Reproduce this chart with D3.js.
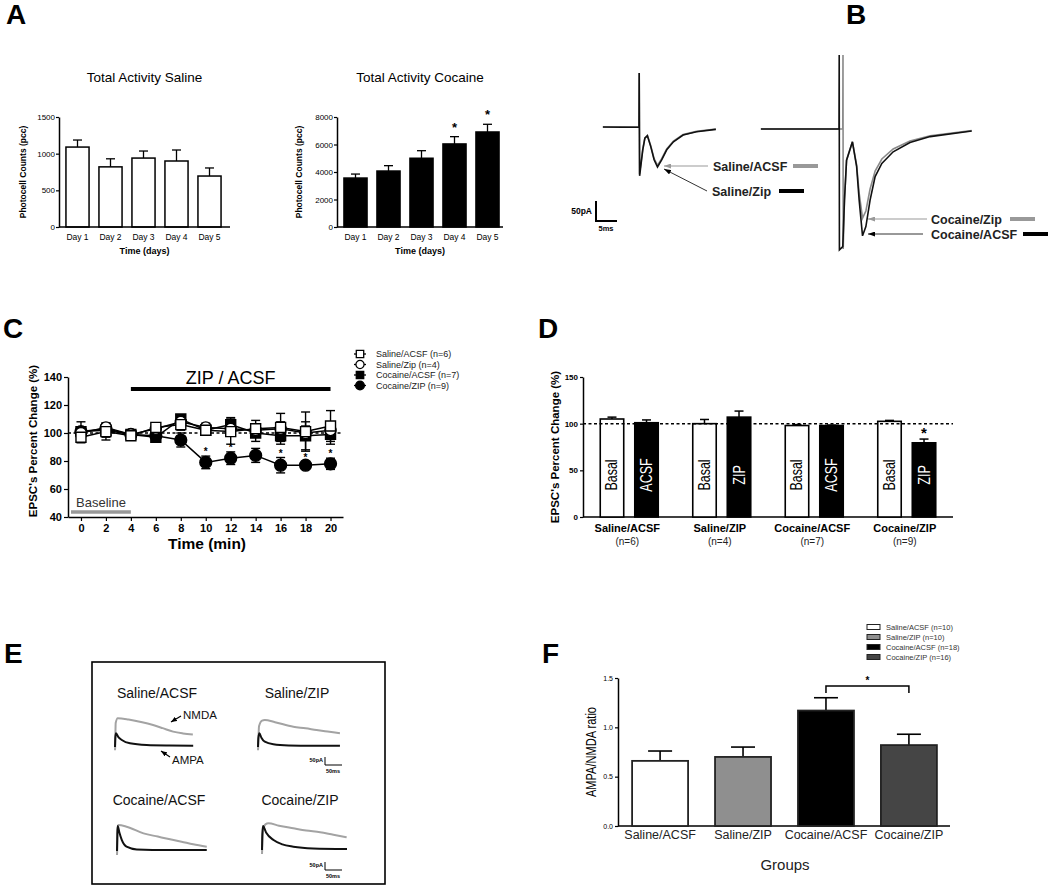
<!DOCTYPE html>
<html><head><meta charset="utf-8">
<script src="https://cdn.jsdelivr.net/npm/d3@7"></script>
<style>body{margin:0;background:#fff} svg{display:block}</style>
</head><body><svg id="c" width="1050" height="886"></svg>
<script>
// ---------------- DATA ----------------
// A
const days = ["Day 1","Day 2","Day 3","Day 4","Day 5"];
const salineActivity = [1090, 820, 940, 900, 695];
const salineActivitySem = [96, 110, 96, 150, 110];
const cocaineActivity = [3560, 4070, 5000, 6040, 6910];
const cocaineActivitySem = [290, 390, 550, 530, 560];
const cocaineActivitySig = [false, false, false, true, true];
const salineTicks = [0, 500, 1000, 1500];
const cocaineTicks = [0, 2000, 4000, 6000, 8000];

// B  traces: [ms, pA]
const salineAcsfTrace = [[-8.6,0],[-4,0.5],[0,0],[0.05,135],[0.12,-118],[0.9,-55],[1.4,-27],[2.0,-21],[2.8,-47],[3.6,-79],[4.4,-96],[5.4,-79],[6.6,-55],[8.2,-35],[10.5,-19],[13.7,-11],[18.3,-5]];
const salineZipTrace  = [[-8.6,0],[-4,-0.5],[0,0],[0.05,135],[0.15,-122],[0.9,-57],[1.4,-28],[2.0,-22],[2.8,-49],[3.6,-82],[4.4,-100],[5.4,-82],[6.6,-57],[8.2,-37],[10.5,-20],[13.7,-12],[18.3,-6]];
const cocaineZipTrace  = [[-18.6,0],[0.9,0],[0.95,185],[1.0,-300],[1.3,-178],[1.8,-78],[3.2,-32],[4.2,-90],[4.8,-160],[5.6,-223],[6.4,-205],[7.4,-150],[8.6,-105],[10.2,-75],[12.9,-50],[16.9,-30],[21.7,-17],[31.6,-4]];
const cocaineAcsfTrace = [[-18.6,0],[0,0],[0.05,185],[0.1,-302],[0.9,-294],[1.3,-178],[1.8,-78],[3.2,-32],[4.2,-94],[4.8,-178],[5.6,-267],[6.4,-244],[7.4,-178],[8.6,-119],[10.2,-86],[12.9,-57],[16.9,-34],[21.7,-19],[31.6,-5]];
const bScaleBar = [5, 50]; // ms, pA

// C
const cTimes = [0,2,4,6,8,10,12,14,16,18,20];
const cSalineAcsf    = [97,101,98,104,106,102,101,103,104,101,105];
const cSalineAcsfErr = [4,6,3,3,4,3,9,6,10,14,11];
const cSalineZip     = [100,104,99,103,108,104,103,102,103,100,102];
const cSalineZipErr  = [3,3,2,2,3,3,4,4,5,5,5];
const cCocaineAcsf    = [101,102,99,97,110,102,106,100,98,98,99];
const cCocaineAcsfErr = [7,5,2,2,3,3,5,6,6,10,7];
const cCocaineZip     = [101,103,99,98,95,79,82,84,77,77,78];
const cCocaineZipErr  = [3,3,2,2,5,4.5,4.5,5,5.5,2,4];
const cNames = ["Saline/ACSF (n=6)","Saline/Zip (n=4)","Cocaine/ACSF (n=7)","Cocaine/ZIP (n=9)"];
const cSigTimes = [10,12,16,18,20];
const cTicksY = [40,60,80,100,120,140];
const cBaselinePeriod = [-0.8, 4];
const cDrugPeriod = [4, 20];

// D
const dGroups = ["Saline/ACSF","Saline/ZIP","Cocaine/ACSF","Cocaine/ZIP"];
const dN = ["(n=6)","(n=4)","(n=7)","(n=9)"];
const dBasal = [105, 100, 98, 102.5];
const dBasalErr = [2, 4.5, 1, 1];
const dTreat = [101, 107, 98, 79.5];
const dTreatErr = [3, 6.5, 0.5, 4];
const dTreatLabel = ["ACSF","ZIP","ACSF","ZIP"];
const dSig = [false, false, false, true];
const dTicks = [0, 50, 100, 150];

// E traces: [ms, pA]
const eTitles = ["Saline/ACSF","Saline/ZIP","Cocaine/ACSF","Cocaine/ZIP"];
const eNmda = [
  [[0,-20],[0.5,0],[2,150],[8,180],[40,172],[80,155],[112,137],[140,118],[171,96],[200,85],[229,78]],
  [[0,-20],[0.5,0],[3,130],[12,165],[20,169],[50,155],[104,127],[140,117],[172,106],[210,95],[241,86]],
  [[0,-25],[0.5,0],[2,140],[4,162],[28,152],[78,110],[120,90],[156,73],[190,58],[224,42],[264,27]],
  [[0,-25],[0.5,0],[3,120],[10,160],[19,167],[50,152],[92,136],[130,122],[171,111],[210,95],[249,80]]
];
const eAmpa = [
  [[0,0],[1,60],[3,86],[10,62],[20,44],[44,23],[93,12],[160,9],[230,8]],
  [[0,0],[1,55],[4,86],[10,58],[20,33],[45,17],[90,10],[160,8],[241,8]],
  [[0,0],[1,110],[2,156],[7,115],[14,69],[28,27],[58,10],[150,6],[264,6]],
  [[0,0],[1,100],[3,150],[12,110],[34,62],[60,35],[92,21],[150,10],[250,6]]
];
const eScaleBar = [50, 50]; // ms, pA

// F
const fGroups = ["Saline/ACSF","Saline/ZIP","Cocaine/ACSF","Cocaine/ZIP"];
const fMeans = [0.66, 0.70, 1.17, 0.82];
const fErr = [0.10, 0.10, 0.13, 0.11];
const fLegend = ["Saline/ACSF (n=10)","Saline/ZIP (n=10)","Cocaine/ACSF (n=18)","Cocaine/ZIP (n=16)"];
const fTicks = [0, 0.5, 1.0, 1.5];
const fSigPair = ["Cocaine/ACSF","Cocaine/ZIP"];

// ---------------- DRAWING ----------------
const FONT = '"Liberation Sans", Arial, Helvetica, sans-serif';
const svg = d3.select("#c").attr("font-family", FONT);
svg.append("rect").attr("width",1050).attr("height",886).attr("fill","#fff");

const defs = svg.append("defs");
function mk(id, color, w, h){
  defs.append("marker").attr("id",id).attr("markerUnits","userSpaceOnUse")
    .attr("markerWidth",w).attr("markerHeight",h).attr("refX",w).attr("refY",h/2)
    .attr("orient","auto").append("path").attr("d",`M0,0L${w},${h/2}L0,${h}z`).attr("fill",color);
}
mk("arrG","#999",7,5); mk("arrK","#000",7,5); mk("arrE","#000",6,5);

function styleAxis(g, fs, weight){
  g.attr("font-family", FONT);
  g.select(".domain").attr("stroke","#000").attr("stroke-width",1.5);
  g.selectAll(".tick line").attr("stroke","#000").attr("stroke-width",1.2);
  g.selectAll(".tick text").attr("font-size",fs).attr("font-weight",weight||"normal").attr("fill","#000");
}
function text(g, x, y, s, o){
  o = o || {};
  const t = g.append("text").attr("x",x).attr("y",y).text(s)
    .attr("font-size",o.size||10).attr("font-weight",o.weight||"normal")
    .attr("text-anchor",o.anchor||"start").attr("fill",o.fill||"#000");
  if (o.rotate) t.attr("transform",`rotate(-90,${x},${y})`);
  return t;
}
function errUp(g, x, y0, y1, cap, w){
  g.append("line").attr("x1",x).attr("x2",x).attr("y1",y0).attr("y2",y1).attr("stroke","#000").attr("stroke-width",w||1.5);
  g.append("line").attr("x1",x-cap/2).attr("x2",x+cap/2).attr("y1",y1).attr("y2",y1).attr("stroke","#000").attr("stroke-width",w||1.5);
}

// panel letters
[["A",6,24],["B",846,24],["C",3,338],["D",538,338],["E",4,663],["F",542,663]].forEach(([s,x,y])=>
  text(svg,x,y,s,{size:28,weight:"bold"}));

// ---- Panel A ----
function activityChart(o){
  const g = svg.append("g");
  const x = d3.scaleBand().domain(days).range(o.xr).paddingInner(0.3).paddingOuter(0.15);
  const y = d3.scaleLinear().domain([0,o.ymax]).range([227,117]);
  days.forEach((d,i)=>{
    const cx = x(d)+x.bandwidth()/2;
    errUp(g, cx, y(o.vals[i]), y(o.vals[i]+o.sem[i]), 9, 1.3);
    g.append("rect").attr("x",x(d)).attr("y",y(o.vals[i])).attr("width",x.bandwidth())
      .attr("height",y(0)-y(o.vals[i])).attr("fill",o.fill).attr("stroke","#000").attr("stroke-width",1.5);
    if (o.sig && o.sig[i]) text(g, cx, y(o.vals[i]+o.sem[i])-5, "*", {size:13, weight:"bold", anchor:"middle"});
    text(g, cx, 240, d, {size:8.5, anchor:"middle"});
  });
  const ax = g.append("g").attr("transform",`translate(${o.ax},0)`)
    .call(d3.axisLeft(y).tickValues(o.ticks).tickSize(3).tickSizeOuter(0).tickPadding(1).tickFormat(d3.format("d")));
  styleAxis(ax, 8);
  g.append("line").attr("x1",o.ax).attr("x2",o.axEnd).attr("y1",y(0)).attr("y2",y(0)).attr("stroke","#000").attr("stroke-width",1.5);
  const mid = (o.ax+o.axEnd)/2;
  text(g, mid, 82, o.title, {size:13.5, anchor:"middle"});
  text(g, mid, 254, "Time (days)", {size:9, weight:"bold", anchor:"middle"});
  text(g, o.ylx, 172, "Photocell Counts (pcc)", {size:8.5, weight:"bold", anchor:"middle", rotate:true});
}
activityChart({xr:[61,226], ax:59, axEnd:230, ymax:1500, ticks:salineTicks, vals:salineActivity, sem:salineActivitySem,
  fill:"#fff", title:"Total Activity Saline", ylx:26});
activityChart({xr:[339,504], ax:337, axEnd:503, ymax:8000, ticks:cocaineTicks, vals:cocaineActivity, sem:cocaineActivitySem,
  fill:"#000", sig:cocaineActivitySig, title:"Total Activity Cocaine", ylx:302});

// ---- Panel B ----
{
  const g = svg.append("g");
  const xB = d3.scaleLinear().domain([0,5]).range([0,21]);
  const yB = d3.scaleLinear().domain([0,50]).range([0,-20]);
  const line = d3.line().x(d=>xB(d[0])).y(d=>yB(d[1]));
  const gl = g.append("g").attr("transform","translate(639,127)");
  gl.append("path").attr("d",line(salineAcsfTrace)).attr("fill","none").attr("stroke","#8a8a8a").attr("stroke-width",1.6);
  gl.append("path").attr("d",line(salineZipTrace)).attr("fill","none").attr("stroke","#111").attr("stroke-width",1.6);
  const gr = g.append("g").attr("transform","translate(839,129)");
  gr.append("path").attr("d",line(cocaineZipTrace)).attr("fill","none").attr("stroke","#8a8a8a").attr("stroke-width",1.6);
  gr.append("path").attr("d",line(cocaineAcsfTrace)).attr("fill","none").attr("stroke","#111").attr("stroke-width",1.6);
  const sx = 596, sy = 221;
  g.append("path").attr("d",`M${sx},${sy+yB(bScaleBar[1])}V${sy}H${sx+xB(bScaleBar[0])}`).attr("fill","none").attr("stroke","#000").attr("stroke-width",2);
  text(g, 592, 214, "50pA", {size:8.5, weight:"bold", anchor:"end"});
  text(g, 606, 231, "5ms", {size:7.5, weight:"bold", anchor:"middle"});
  const lab = [
    ["Saline/ACSF", 713, 166, "#999", 793, 818, 708, 664, 166, "arrG"],
    ["Saline/Zip", 712, 191, "#000", 779, 804, 707, 664, 169, "arrK"],
    ["Cocaine/Zip", 931, 219, "#999", 1010, 1035, 927, 868, 219, "arrG"],
    ["Cocaine/ACSF", 931, 234, "#000", 1023, 1048, 923, 868, 234, "arrK"]
  ];
  lab.forEach(([s,x,y,c,l0,l1,ax0,ax1,ay1,m])=>{
    text(g, x, y+4.5, s, {size:12.5, weight:"bold", fill:"#222"});
    g.append("line").attr("x1",l0).attr("x2",l1).attr("y1",y).attr("y2",y).attr("stroke",c).attr("stroke-width",4);
    g.append("line").attr("x1",ax0).attr("x2",ax1).attr("y1",y).attr("y2",ay1)
      .attr("stroke",c==="#000"?"#333":"#999").attr("stroke-width",1).attr("marker-end",`url(#${m})`);
  });
}

// ---- Panel C ----
{
  const g = svg.append("g");
  const x = d3.scaleLinear().domain([-1.04,21]).range([68,343]);
  const y = d3.scaleLinear().domain([40,140]).range([517,377]);
  const ax = g.append("g").attr("transform","translate(68,0)")
    .call(d3.axisLeft(y).tickValues(cTicksY).tickSize(4).tickSizeOuter(0).tickPadding(2));
  styleAxis(ax, 11, "bold");
  const bx = g.append("g").attr("transform","translate(0,517)")
    .call(d3.axisBottom(x).tickValues(cTimes).tickSize(4).tickSizeOuter(0).tickPadding(3));
  styleAxis(bx, 11, "bold");
  text(g, 207, 549, "Time (min)", {size:15.5, weight:"bold", anchor:"middle"});
  text(g, 37, 441, "EPSC's Percent Change (%)", {size:11.5, weight:"bold", anchor:"middle", rotate:true});
  g.append("line").attr("x1",x(cDrugPeriod[0])).attr("x2",x(cDrugPeriod[1])).attr("y1",389).attr("y2",389).attr("stroke","#000").attr("stroke-width",4);
  text(g, (x(cDrugPeriod[0])+x(cDrugPeriod[1]))/2, 384, "ZIP / ACSF", {size:18, anchor:"middle"});
  g.append("line").attr("x1",x(cBaselinePeriod[0])).attr("x2",x(cBaselinePeriod[1])).attr("y1",512).attr("y2",512).attr("stroke","#999").attr("stroke-width",3.5);
  text(g, 76, 507, "Baseline", {size:13, fill:"#333"});
  g.append("line").attr("x1",68).attr("x2",343).attr("y1",y(100)).attr("y2",y(100)).attr("stroke","#000").attr("stroke-width",1.5).attr("stroke-dasharray","3,2.5");
  const series = [
    {vals:cCocaineZip, err:cCocaineZipErr, name:cNames[3]},
    {vals:cCocaineAcsf, err:cCocaineAcsfErr, name:cNames[2]},
    {vals:cSalineZip, err:cSalineZipErr, name:cNames[1]},
    {vals:cSalineAcsf, err:cSalineAcsfErr, name:cNames[0]}
  ];
  const styles = {};
  styles[cNames[0]] = {type:d3.symbolSquare, size:100, fill:"#fff"};
  styles[cNames[1]] = {type:d3.symbolCircle, size:95, fill:"#fff"};
  styles[cNames[2]] = {type:d3.symbolSquare, size:100, fill:"#000"};
  styles[cNames[3]] = {type:d3.symbolCircle, size:110, fill:"#000"};
  const line = d3.line().x((d,i)=>x(cTimes[i])).y(d=>y(d));
  series.forEach(s=>{
    g.append("path").attr("d",line(s.vals)).attr("fill","none").attr("stroke","#000").attr("stroke-width",1.5);
  });
  series.forEach(s=>{
    s.vals.forEach((v,i)=>{
      const cx = x(cTimes[i]);
      g.append("line").attr("x1",cx).attr("x2",cx).attr("y1",y(v-s.err[i])).attr("y2",y(v+s.err[i])).attr("stroke","#000").attr("stroke-width",1.4);
      [v-s.err[i], v+s.err[i]].forEach(e=>g.append("line").attr("x1",cx-4.5).attr("x2",cx+4.5).attr("y1",y(e)).attr("y2",y(e)).attr("stroke","#000").attr("stroke-width",1.4));
    });
  });
  series.forEach(s=>{
    const st = styles[s.name];
    s.vals.forEach((v,i)=>{
      g.append("path").attr("d",d3.symbol().type(st.type).size(st.size)()).attr("transform",`translate(${x(cTimes[i])},${y(v)})`)
        .attr("fill",st.fill).attr("stroke","#000").attr("stroke-width",1.4);
    });
  });
  cSigTimes.forEach(t=>{
    const i = cTimes.indexOf(t);
    text(g, x(t), y(cCocaineZip[i]+cCocaineZipErr[i])-1, "*", {size:10, weight:"bold", anchor:"middle"});
  });
  cNames.forEach((n,i)=>{
    const ly = 354 + i*10.5, lx = 360;
    const st = styles[n];
    g.append("line").attr("x1",lx-6).attr("x2",lx+6).attr("y1",ly).attr("y2",ly).attr("stroke","#000").attr("stroke-width",1.3);
    g.append("path").attr("d",d3.symbol().type(st.type).size(st.size*0.55)()).attr("transform",`translate(${lx},${ly})`)
      .attr("fill",st.fill).attr("stroke","#000").attr("stroke-width",1.3);
    text(g, 376, ly+3, n, {size:9, fill:"#222"});
  });
}

// ---- Panel D ----
{
  const g = svg.append("g");
  const gx = d3.scaleBand().domain(dGroups).range([583,953]);
  const inner = d3.scaleBand().domain(["Basal","Treat"]).range([-29,29]).paddingInner(0.32);
  const y = d3.scaleLinear().domain([0,150]).range([517,377]);
  const ax = g.append("g").attr("transform","translate(583,0)")
    .call(d3.axisLeft(y).tickValues(dTicks).tickSize(3).tickSizeOuter(0).tickPadding(2));
  styleAxis(ax, 8, "bold");
  g.append("line").attr("x1",583).attr("x2",953).attr("y1",517).attr("y2",517).attr("stroke","#000").attr("stroke-width",1.5);
  text(g, 559, 447, "EPSC's Percent Change (%)", {size:11.5, weight:"bold", anchor:"middle", rotate:true});
  const bw = inner.bandwidth();
  dGroups.forEach((grp,i)=>{
    const gc = gx(grp) + gx.bandwidth()/2;
    const bars = [
      {x:gc+inner("Basal"), v:dBasal[i], e:dBasalErr[i], fill:"#fff", lab:"Basal", tc:"#000"},
      {x:gc+inner("Treat"), v:dTreat[i], e:dTreatErr[i], fill:"#000", lab:dTreatLabel[i], tc:"#fff"}
    ];
    bars.forEach(b=>{
      const cx = b.x + bw/2;
      errUp(g, cx, y(b.v), y(b.v+b.e), 9, 1.5);
      g.append("rect").attr("x",b.x).attr("y",y(b.v)).attr("width",bw).attr("height",y(0)-y(b.v))
        .attr("fill",b.fill).attr("stroke","#000").attr("stroke-width",1.6);
      const t = text(g, cx+5.5, 475, b.lab, {size:16, anchor:"middle", fill:b.tc, rotate:true});
      const L = t.node().getComputedTextLength();
      t.attr("textLength", L*0.78).attr("lengthAdjust","spacingAndGlyphs");
    });
    if (dSig[i]) text(g, bars[1].x+bw/2, y(dTreat[i]+dTreatErr[i])-1, "*", {size:15, weight:"bold", anchor:"middle"});
    text(g, gc-2, 532, grp, {size:11, weight:"bold", anchor:"middle"});
    text(g, gc-2, 545, dN[i], {size:10, anchor:"middle", fill:"#222"});
  });
  g.append("line").attr("x1",583).attr("x2",953).attr("y1",y(100)).attr("y2",y(100)).attr("stroke","#000").attr("stroke-width",1.5).attr("stroke-dasharray","3,2.5");
}

// ---- Panel E ----
{
  const g = svg.append("g");
  g.append("rect").attr("x",92).attr("y",662).attr("width",293).attr("height",222).attr("fill","none").attr("stroke","#000").attr("stroke-width",1.6);
  const eX = d3.scaleLinear().domain([0,50]).range([0,17]);
  const eY = d3.scaleLinear().domain([0,50]).range([0,-8]);
  const line = d3.line().x(d=>eX(d[0])).y(d=>eY(d[1])).curve(d3.curveMonotoneX);
  const origins = [[115,747],[258,747],[117,851],[262,850]];
  const titlePos = [[157,698],[297,698],[159,805],[300,805]];
  eTitles.forEach((t,i)=>{
    text(g, titlePos[i][0], titlePos[i][1], t, {size:14, anchor:"middle", fill:"#111"});
    const tg = g.append("g").attr("transform",`translate(${origins[i][0]},${origins[i][1]})`);
    tg.append("path").attr("d",line(eNmda[i])).attr("fill","none").attr("stroke","#a3a3a3").attr("stroke-width",2);
    tg.append("path").attr("d",line(eAmpa[i])).attr("fill","none").attr("stroke","#111").attr("stroke-width",2);
  });
  text(g, 183, 719, "NMDA", {size:11.5, fill:"#111"});
  g.append("line").attr("x1",181).attr("y1",716).attr("x2",171).attr("y2",722).attr("stroke","#000").attr("stroke-width",1.2).attr("marker-end","url(#arrE)");
  text(g, 172, 764, "AMPA", {size:11.5, fill:"#111"});
  g.append("line").attr("x1",170).attr("y1",757).attr("x2",161).attr("y2",751).attr("stroke","#000").attr("stroke-width",1.2).attr("marker-end","url(#arrE)");
  [[325,765],[325,870]].forEach(([sx,sy])=>{
    g.append("path").attr("d",`M${sx},${sy+eY(eScaleBar[1])}V${sy}H${sx+eX(eScaleBar[0])}`).attr("fill","none").attr("stroke","#000").attr("stroke-width",1);
    text(g, sx-2, sy-3, "50pA", {size:5.5, weight:"bold", anchor:"end"});
    text(g, sx+8, sy+8, "50ms", {size:5.5, weight:"bold", anchor:"middle"});
  });
}

// ---- Panel F ----
{
  const g = svg.append("g");
  const x = d3.scaleBand().domain(fGroups).range([618,951]).paddingInner(0.325).paddingOuter(0.17);
  const y = d3.scaleLinear().domain([0,1.5]).range([826,678]);
  const fills = ["#fff","#8f8f8f","#000","#454545"];
  const ax = g.append("g").attr("transform","translate(618,0)")
    .call(d3.axisLeft(y).tickValues(fTicks).tickSize(3).tickSizeOuter(0).tickPadding(2).tickFormat(d3.format(".1f")));
  styleAxis(ax, 7);
  g.append("line").attr("x1",618).attr("x2",950).attr("y1",826).attr("y2",826).attr("stroke","#000").attr("stroke-width",1.5);
  fGroups.forEach((grp,i)=>{
    const cx = x(grp)+x.bandwidth()/2;
    errUp(g, cx, y(fMeans[i]), y(fMeans[i]+fErr[i]), 24, 1.6);
    g.append("rect").attr("x",x(grp)).attr("y",y(fMeans[i])).attr("width",x.bandwidth()).attr("height",y(0)-y(fMeans[i]))
      .attr("fill",fills[i]).attr("stroke","#222").attr("stroke-width",1.8);
    text(g, cx, 839, grp, {size:12.5, anchor:"middle", fill:"#222"});
  });
  const c1 = x(fSigPair[0])+x.bandwidth()/2, c2 = x(fSigPair[1])+x.bandwidth()/2;
  g.append("path").attr("d",`M${c1},693V686H${c2}V693`).attr("fill","none").attr("stroke","#000").attr("stroke-width",1.5);
  text(g, (c1+c2)/2, 684, "*", {size:10, weight:"bold", anchor:"middle"});
  text(g, 785, 870, "Groups", {size:15, anchor:"middle", fill:"#222"});
  const yl = text(g, 596, 752, "AMPA/NMDA ratio", {size:14, anchor:"middle", rotate:true});
  yl.attr("textLength",90).attr("lengthAdjust","spacingAndGlyphs");
  fLegend.forEach((s,i)=>{
    const ly = 627 + i*10;
    g.append("rect").attr("x",867).attr("y",ly-2.5).attr("width",13).attr("height",5).attr("fill",fills[i]).attr("stroke","#222").attr("stroke-width",1);
    text(g, 886, ly+3, s, {size:7.5, fill:"#333"});
  });
}
</script></body></html>
